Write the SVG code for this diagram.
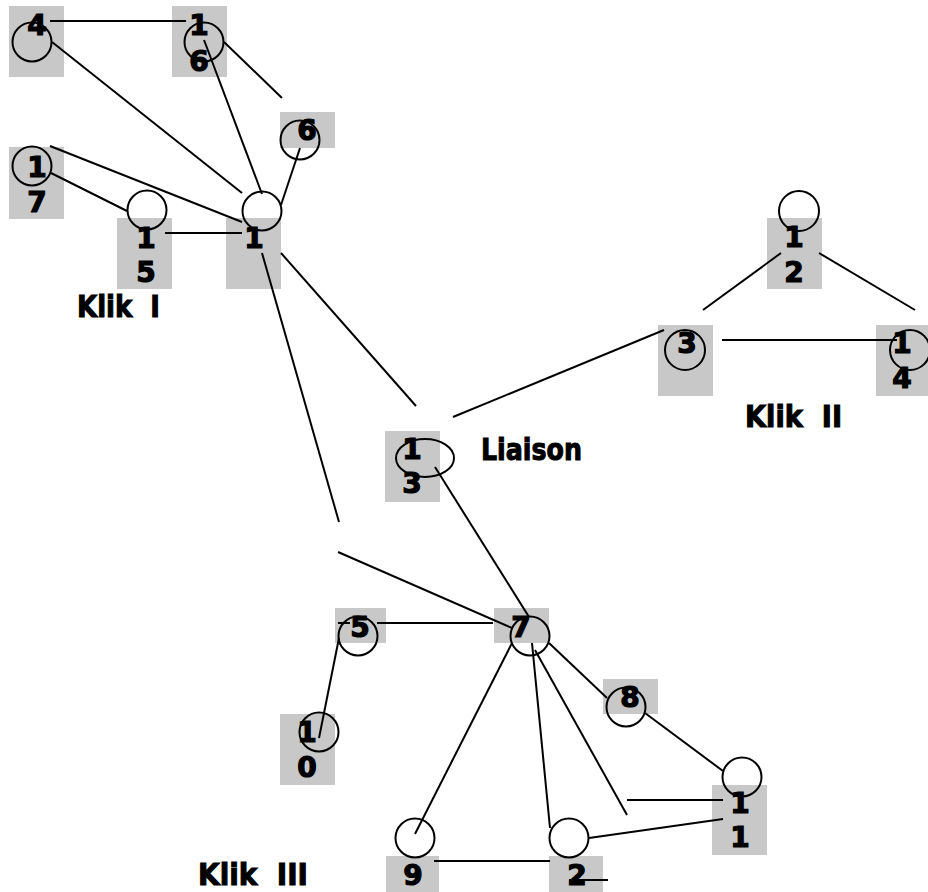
<svg xmlns="http://www.w3.org/2000/svg" width="928" height="892" viewBox="0 0 928 892">
<style>
.box{fill:#c8c8c8;stroke:none}
.c{fill:none;stroke:#000;stroke-width:2}
.d{font-family:"DejaVu Sans",Verdana,sans-serif;font-weight:bold;font-size:28px;fill:#000;stroke:#000;stroke-width:1.2;text-anchor:middle}
.lbl{font-family:"DejaVu Sans",Verdana,sans-serif;font-weight:bold;font-size:31px;fill:#000;stroke:#000;stroke-width:1.1}
#connectors line{stroke:#000;stroke-width:2;fill:none}
</style>
<rect width="928" height="892" fill="#fff"/>
<g id="node-4"><rect class="box" x="9" y="6" width="55" height="71"/><circle class="c" cx="32" cy="42" r="19.5"/><text class="d" x="37" y="35">4</text></g>
<g id="node-16"><rect class="box" x="172" y="6" width="55" height="71"/><circle class="c" cx="204" cy="42" r="19.5"/><text class="d" x="199" y="35">1</text><text class="d" x="199" y="71">6</text></g>
<g id="node-6"><rect class="box" x="280" y="112" width="55" height="36"/><circle class="c" cx="300" cy="140" r="19.5"/><text class="d" x="307" y="140">6</text></g>
<g id="node-1"><rect class="box" x="226" y="218" width="55" height="71"/><circle class="c" cx="262" cy="211" r="19.5"/><text class="d" x="254" y="248">1</text></g>
<g id="node-17"><rect class="box" x="9" y="147" width="55" height="72"/><circle class="c" cx="32" cy="166" r="19.5"/><text class="d" x="37" y="177">1</text><text class="d" x="37" y="212">7</text></g>
<g id="node-15"><rect class="box" x="117" y="218" width="55" height="71"/><circle class="c" cx="147" cy="210" r="19.5"/><text class="d" x="146" y="248">1</text><text class="d" x="146" y="282">5</text></g>
<g id="node-12"><rect class="box" x="767" y="218" width="55" height="71"/><circle class="c" cx="799" cy="211" r="20"/><text class="d" x="794" y="247">1</text><text class="d" x="794" y="282">2</text></g>
<g id="node-3"><rect class="box" x="658" y="325" width="55" height="71"/><circle class="c" cx="685" cy="350" r="20"/><text class="d" x="687" y="353">3</text></g>
<g id="node-14"><rect class="box" x="876" y="325" width="55" height="71"/><circle class="c" cx="910" cy="350" r="20"/><text class="d" x="902" y="353">1</text><text class="d" x="902" y="388">4</text></g>
<g id="node-13"><rect class="box" x="385" y="431" width="55" height="71"/><ellipse class="c" cx="425" cy="458" rx="29" ry="19"/><text class="d" x="412" y="459">1</text><text class="d" x="412" y="493">3</text></g>
<g id="node-5"><rect class="box" x="335" y="608" width="51" height="35"/><circle class="c" cx="358" cy="636" r="19.5"/><text class="d" x="360" y="637">5</text></g>
<g id="node-7"><rect class="box" x="494" y="608" width="55" height="35"/><circle class="c" cx="530" cy="636" r="19.5"/><text class="d" x="521" y="637">7</text></g>
<g id="node-10"><rect class="box" x="280" y="714" width="55" height="71"/><circle class="c" cx="319" cy="732" r="19.5"/><text class="d" x="307" y="742">1</text><text class="d" x="307" y="777">0</text></g>
<g id="node-8"><rect class="box" x="603" y="679" width="55" height="35"/><circle class="c" cx="626" cy="707" r="19.5"/><text class="d" x="630" y="707">8</text></g>
<g id="node-11"><rect class="box" x="712" y="785" width="55" height="70"/><circle class="c" cx="742" cy="777" r="19.5"/><text class="d" x="740" y="813">1</text><text class="d" x="740" y="847">1</text></g>
<g id="node-9"><rect class="box" x="386" y="856" width="53" height="36"/><circle class="c" cx="415" cy="838" r="19.5"/><text class="d" x="413" y="885">9</text></g>
<g id="node-2"><rect class="box" x="549" y="856" width="54" height="36"/><circle class="c" cx="569" cy="838" r="19.5"/><text class="d" x="577" y="885">2</text></g>
<g id="connectors">
<line x1="50" y1="21" x2="186" y2="21"/>
<line x1="52" y1="42" x2="242" y2="193"/>
<line x1="204" y1="40" x2="262" y2="194"/>
<line x1="224" y1="42" x2="282" y2="98"/>
<line x1="300" y1="148" x2="281" y2="205"/>
<line x1="50" y1="146" x2="242" y2="222"/>
<line x1="51" y1="173" x2="127" y2="211"/>
<line x1="165" y1="233" x2="242" y2="233"/>
<line x1="262" y1="253" x2="339" y2="522"/>
<line x1="281" y1="253" x2="416" y2="406"/>
<line x1="703" y1="310" x2="781" y2="253"/>
<line x1="819" y1="253" x2="915" y2="310"/>
<line x1="722" y1="340" x2="897" y2="340"/>
<line x1="453" y1="417" x2="664" y2="330"/>
<line x1="435" y1="467" x2="529" y2="617"/>
<line x1="338" y1="552" x2="512" y2="628"/>
<line x1="338" y1="623" x2="350" y2="623"/>
<line x1="377" y1="623" x2="493" y2="623"/>
<line x1="339" y1="638" x2="319" y2="738"/>
<line x1="512" y1="643" x2="415" y2="834"/>
<line x1="532" y1="643" x2="550" y2="828"/>
<line x1="535" y1="650" x2="627" y2="815"/>
<line x1="549" y1="643" x2="607" y2="698"/>
<line x1="645" y1="713" x2="723" y2="771"/>
<line x1="627" y1="800" x2="723" y2="800"/>
<line x1="589" y1="838" x2="723" y2="819"/>
<line x1="434" y1="861" x2="550" y2="861"/>
<line x1="569" y1="880" x2="608" y2="880"/>
</g>
<g id="labels">
<text class="lbl" x="77" y="317" xml:space="preserve" textLength="83" lengthAdjust="spacingAndGlyphs">Klik  I</text>
<text class="lbl" x="745" y="427" xml:space="preserve" textLength="97" lengthAdjust="spacingAndGlyphs">Klik  II</text>
<text class="lbl" x="481" y="460" textLength="101" lengthAdjust="spacingAndGlyphs">Liaison</text>
<text class="lbl" x="198" y="885" xml:space="preserve" textLength="110" lengthAdjust="spacingAndGlyphs">Klik  III</text>
</g>
</svg>
